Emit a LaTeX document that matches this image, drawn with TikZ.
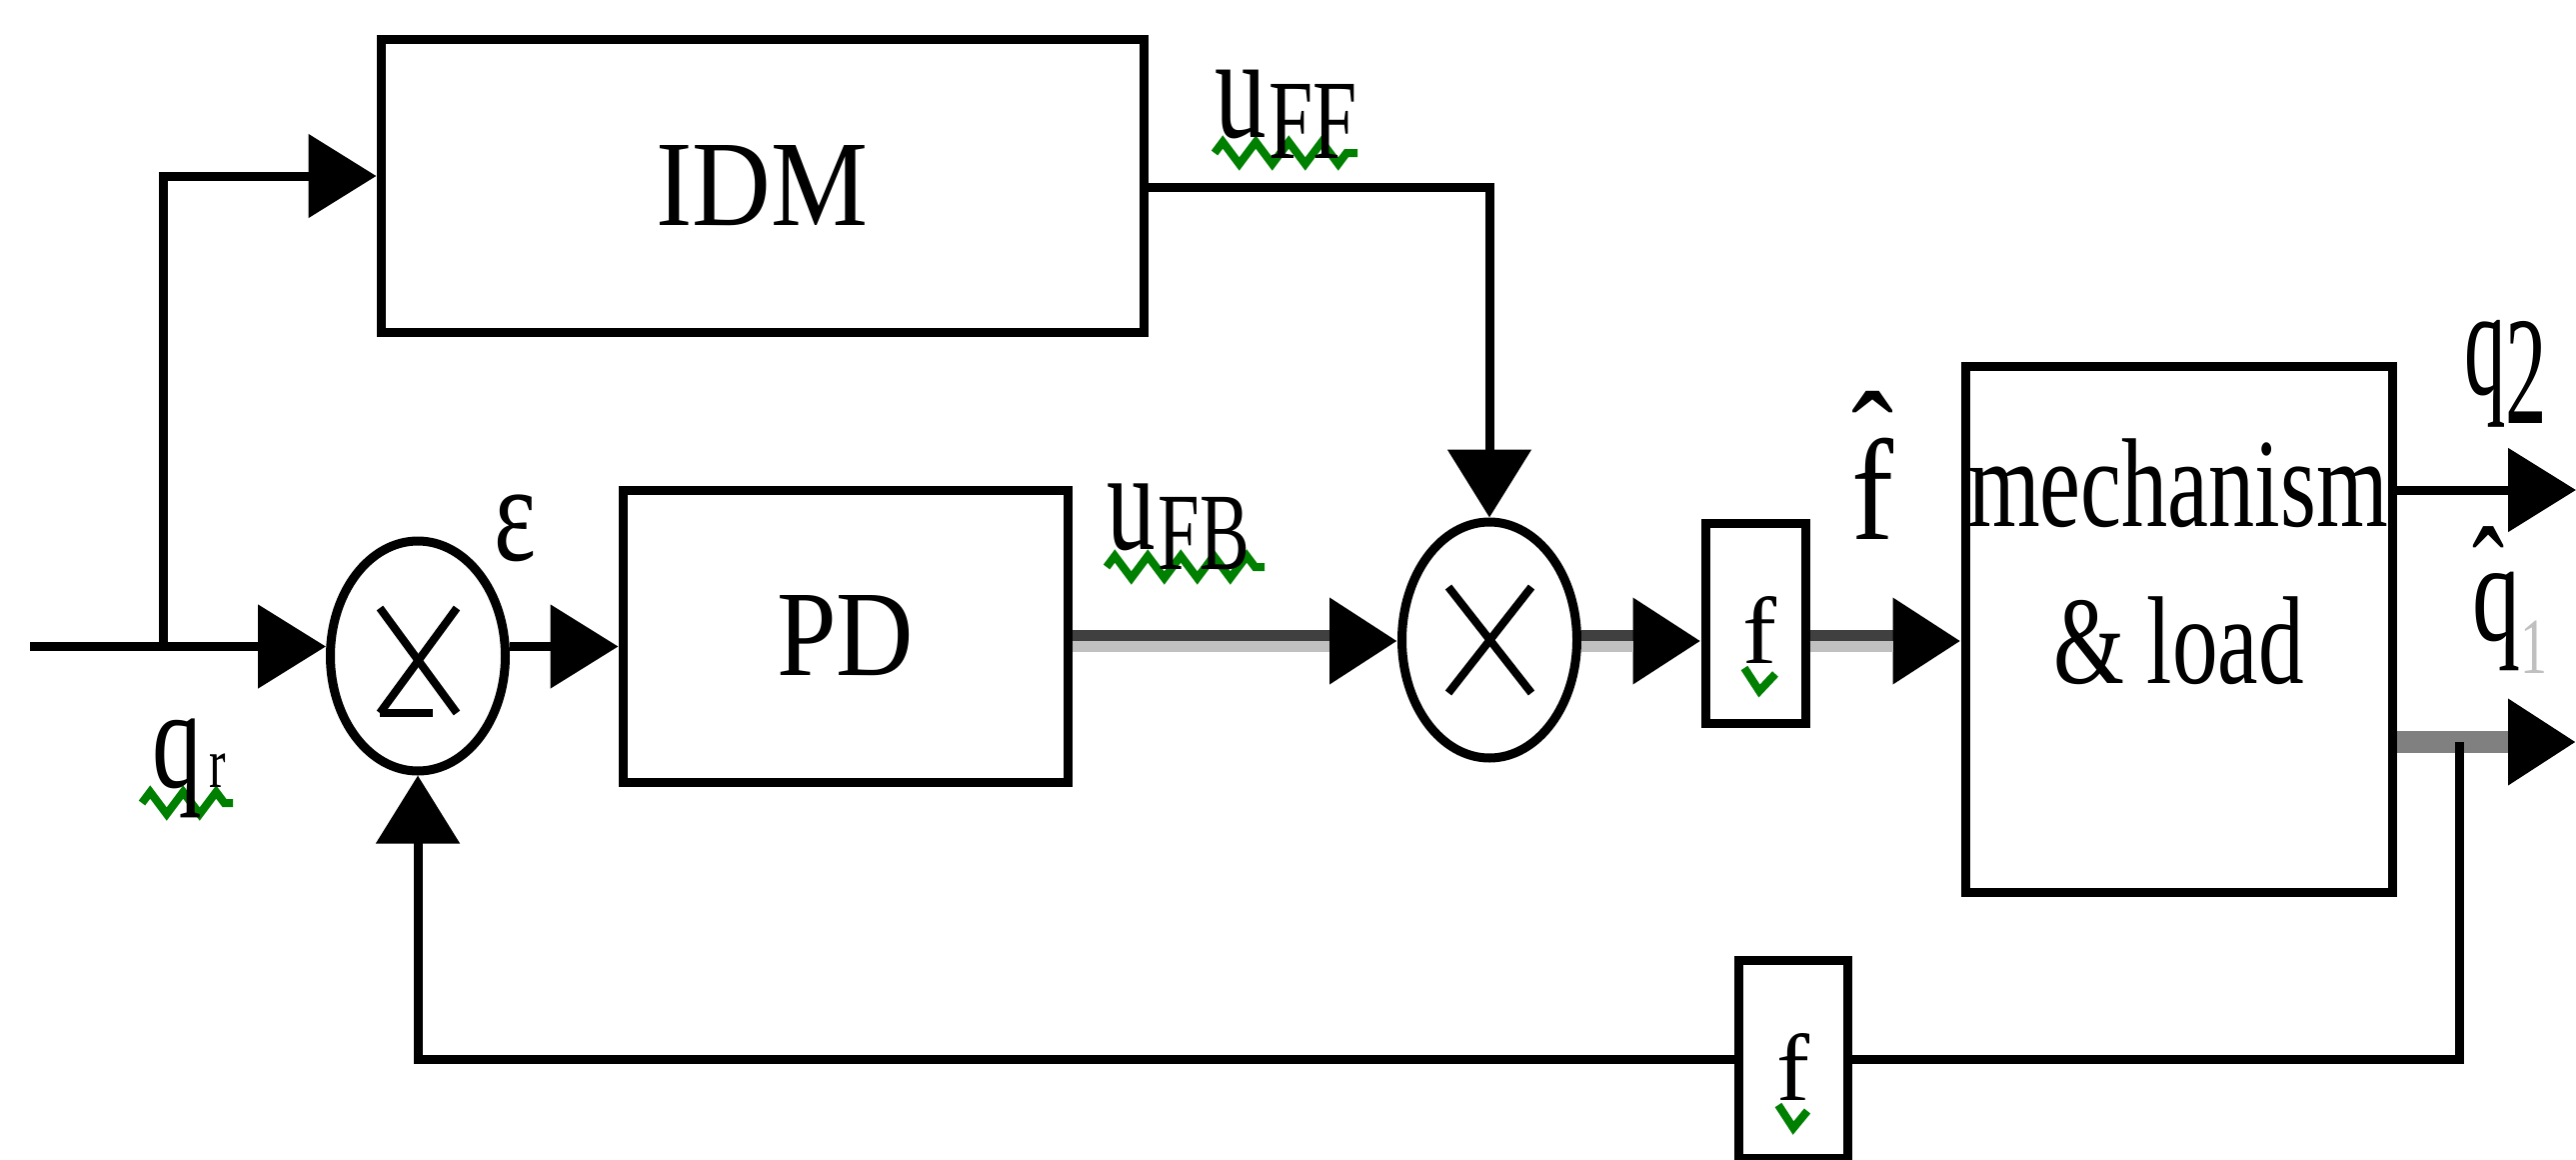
\documentclass[tikz,border=0pt]{standalone}
\usepackage{fontspec}
\setmainfont{Liberation Serif}
\usepackage{graphicx}
\usepackage{xcolor}
\usetikzlibrary{arrows.meta,shapes.geometric,decorations.pathmorphing}
\definecolor{spellgreen}{RGB}{0,128,0}
\definecolor{banddark}{RGB}{64,64,64}
\definecolor{bandlight}{RGB}{192,192,192}
\definecolor{bandmid}{RGB}{128,128,128}
\definecolor{subgray}{RGB}{192,192,192}
\newcommand{\circhat}{\char"02C6\relax}
\begin{document}
\begin{tikzpicture}[x=1pt,y=-1pt,
  blk/.style={draw, line width=9pt, inner sep=0pt, font=\fontsize{100}{100}\selectfont},
  sumj/.style={draw, ellipse, line width=9pt, inner sep=0pt, minimum width=175pt, minimum height=230pt},
  lbl/.style={inner sep=0pt, outer sep=0pt, font=\fontsize{100}{100}\selectfont},
  wire/.style={line width=9pt},
  arr/.style={-{Triangle[length=68pt,width=82pt]}},
  arrk/.style={-{Triangle[length=68pt,width=82pt,color=black]}},
  xline/.style={line width=8pt},
  squig/.style={draw=spellgreen, line width=8pt, decorate, decoration={zigzag, segment length=33pt, amplitude=11pt}},
  vsquig/.style={draw=spellgreen, line width=8pt}
]
\useasboundingbox (0,0) rectangle (2577,1159);
\fill[white] (0,0) rectangle (2577,1159);

% blocks
\node[blk, minimum width=763pt, minimum height=293pt] (idm) at (762.5,185.5) {\resizebox{212pt}{80pt}{IDM}};
\node[blk, minimum width=445pt, minimum height=292pt] (pd) at (845.5,636) {\resizebox{137pt}{80pt}{PD}};
\node[blk, minimum width=100pt, minimum height=200pt] (fb1) at (1756,623.5) {};
\node[blk, minimum width=427pt, minimum height=526pt] (mech) at (2179.5,629) {};
\node[blk, minimum width=109pt, minimum height=198pt] (fb2) at (1793.5,1059) {};

% summing junctions
\node[sumj] (s1) at (418,656) {};
\node[sumj, minimum height=236pt] (s2) at (1490,640) {};
\draw[xline] ([shift={(-38,-48)}]s1.center) -- ([shift={(39,57)}]s1.center);
\draw[xline] ([shift={(39,-48)}]s1.center) -- ([shift={(-38,57)}]s1.center);
\draw[xline] ([shift={(-38,57)}]s1.center) -- ([shift={(15,57)}]s1.center);
\draw[xline] ([shift={(-41,-53)}]s2.center) -- ([shift={(42,53)}]s2.center);
\draw[xline] ([shift={(42,-53)}]s2.center) -- ([shift={(-41,53)}]s2.center);

% spell-check squiggles
\draw[squig] (142,803) -- (233,803);
\draw[squig] (1215,153) -- (1358,153);
\draw[squig] (1107,567) -- (1265,567);
\draw[vsquig] (1745,668) -- (1760,691) -- (1776,674);
\draw[vsquig] (1779,1105) -- (1794,1128) -- (1808,1111);

% texts
\node[lbl] (tf1) at (1760,629.5) {\resizebox*{34pt}{67pt}{f}};
\node[lbl] (tf2) at (1793.5,1066.5) {\resizebox*{33pt}{67pt}{f}};
\node[lbl] (tm1) at (2179,483.5) {\resizebox*{420pt}{89pt}{mechanism}};
\node[lbl] (tm2) at (2179.5,641) {\resizebox*{251pt}{88pt}{\& load}};
\node[lbl] (lqr) at (189,768.5) {\resizebox*{74pt}{99pt}{q\kern.08em\scalebox{.5}{r}}};
\node[lbl] (leps) at (515,528.5) {\resizebox*{42pt}{67pt}{ε}};
\node[lbl] (luff) at (1286.5,114) {\resizebox*{143pt}{88pt}{u\kern.03em\raisebox{-.14em}{\scalebox{.77}{FF}}}};
\node[lbl] (lufb) at (1178.5,527) {\resizebox*{143pt}{86pt}{u\kern.03em\raisebox{-.14em}{\scalebox{.77}{FB}}}};
\node[lbl] (lfhat) at (1873,466.5) {\resizebox*{42pt}{145pt}{\smash{f\llap{\raisebox{.33em}{\circhat}}}\rule{0pt}{1.007em}}};
\node[lbl] (lq2) at (2506.5,373.5) {\resizebox*{83pt}{107pt}{q\raisebox{-.19em}{2}}};
\node[lbl] (lq1) at (2510.5,601) {\resizebox*{75pt}{144pt}{\smash{\rlap{\raisebox{.11em}{\circhat}}q\raisebox{-.226em}{\scalebox{.56}{\textcolor{subgray}{1}}}}\rule[-.226em]{0pt}{1.013em}}};

% free ends
\coordinate (in) at (30,646.5);
\coordinate (br) at (163,646.5);
\coordinate (q2end) at (2577,490);
\coordinate (q1end) at (2577,742);
\coordinate (fbr) at (2460,742);

% connectors
\draw[wire,arr] (in) -- (s1.west |- in);
\draw[wire,arr] (br) |- (idm.west |- 0,176);
\draw[wire,arr] (s1.east |- in) -- (pd.west |- in);
\draw[wire,arr] (idm.east |- 0,187) -| (s2.north);
\draw[line width=22pt, draw=banddark, arrk] (pd.east |- 0,641) -- (s2.west |- 0,641);
\draw[line width=11pt, draw=bandlight, shorten >=68pt] (pd.east |- 0,646.5) -- (s2.west |- 0,646.5);
\draw[line width=22pt, draw=banddark, arrk] (s2.east |- 0,641) -- (fb1.west |- 0,641);
\draw[line width=11pt, draw=bandlight, shorten >=68pt] (s2.east |- 0,646.5) -- (fb1.west |- 0,646.5);
\draw[line width=22pt, draw=banddark, arrk] (fb1.east |- 0,641) -- (mech.west |- 0,641);
\draw[line width=11pt, draw=bandlight, shorten >=68pt] (fb1.east |- 0,646.5) -- (mech.west |- 0,646.5);
\draw[wire,arr] (mech.east |- 0,490) -- (q2end);
\draw[line width=22pt, draw=bandmid, arrk] (mech.east |- 0,742) -- (q1end);
\draw[wire] (fbr) |- (fb2.east);
\draw[wire,arr] (fb2.west) -| (s1.south);
\end{tikzpicture}
\end{document}
